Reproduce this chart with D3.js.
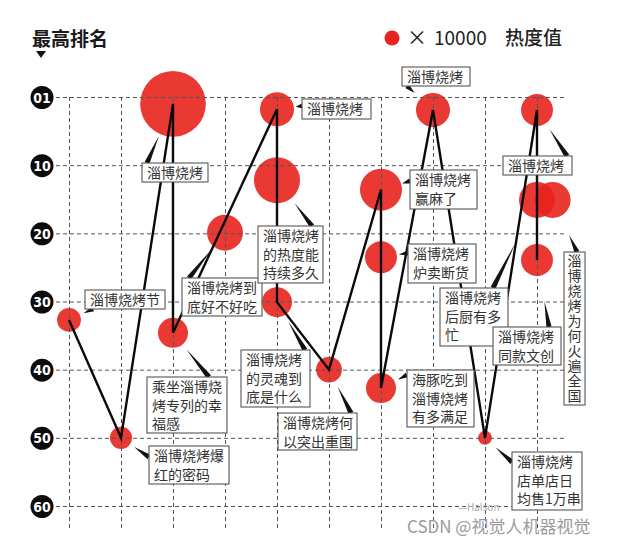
<!DOCTYPE html>
<html>
<head>
<meta charset="utf-8">
<script src="https://cdn.jsdelivr.net/npm/d3@7"></script>
<style>
  body { margin: 0; background: #fff; }
  text { font-family: "Noto Sans CJK SC", "Noto Sans", sans-serif; }
</style>
</head>
<body>
<svg id="chart" width="633" height="546"></svg>
<script>
// topic titles, one per bubble
const topics = [
  "淄博烧烤节", "淄博烧烤爆红的密码", "淄博烧烤", "乘坐淄博烧烤专列的幸福感",
  "淄博烧烤到底好不好吃", "淄博烧烤", "淄博烧烤的热度能持续多久", "淄博烧烤的灵魂到底是什么",
  "淄博烧烤何以突出重围", "淄博烧烤赢麻了", "淄博烧烤炉卖断货", "海豚吃到淄博烧烤有多满足",
  "淄博烧烤", "淄博烧烤店单店日均售1万串", "淄博烧烤", "淄博烧烤后厨有多忙",
  "淄博烧烤为何火遍全国", "淄博烧烤同款文创"
];
// column (time slot) of each bubble
const columns = [1, 2, 3, 3, 4, 5, 5, 5, 6, 7, 7, 7, 8, 9, 10, 10, 10.3, 10];
// best rank reached
const ranks = [32.7, 50, 1, 34.6, 19.9, 1.8, 12.2, 30.1, 40, 13.6, 23.5, 42.7, 1.9, 50, 1.9, 15.1, 15.1, 23.9];
// heat value, x 10000
const heats = [2.9, 2.5, 22, 4.6, 6.6, 5.9, 10.8, 4.6, 3.4, 9, 5.2, 4.6, 5.9, 1, 5.2, 6.6, 6.6, 5.2];
// order in which the trend line visits the bubbles
const trend = [0, 1, 2, 3, 5, 7, 8, 9, 11, 12, 13, 14, 17];

const rankTicks = [0, 10, 20, 30, 40, 50, 60];
const rankTickLabels = ["01", "10", "20", "30", "40", "50", "60"];
const columnTicks = [1, 2, 3, 4, 5, 6, 7, 8, 9, 10];

// callout boxes: box x,y,w,h / chars per line / anchor on box / gap to bubble
const callouts = [
  { i: 0,  box: [85, 290, 80, 19],  cpl: [5],       a: [93, 309],  gap: 4 },
  { i: 1,  box: [149, 446, 80, 38], cpl: [5, 4],    a: [149, 457], gap: 5 },
  { i: 2,  box: [142, 163, 66, 19], cpl: [4],       a: [147, 163], gap: 2 },
  { i: 3,  box: [147, 377, 80, 56], cpl: [5, 5, 2], a: [209, 377], gap: 6 },
  { i: 4,  box: [182, 278, 80, 38], cpl: [5, 5],    a: [189, 278], gap: 3 },
  { i: 5,  box: [302, 99, 69, 20],  cpl: [4],       a: [302, 106], gap: 2 },
  { i: 6,  box: [258, 226, 65, 57], cpl: [4, 4, 4], a: [312, 226], gap: 6 },
  { i: 7,  box: [241, 350, 69, 57], cpl: [4, 4, 4], a: [305, 350], gap: 7 },
  { i: 8,  box: [278, 413, 79, 37], cpl: [5, 5],    a: [351, 413], gap: 6 },
  { i: 9,  box: [410, 170, 67, 39], cpl: [4, 3],    a: [410, 181], gap: 1 },
  { i: 10, box: [408, 244, 68, 39], cpl: [4, 4],    a: [408, 253], gap: 2 },
  { i: 11, box: [407, 370, 67, 57], cpl: [4, 4, 4], a: [407, 375], gap: 4 },
  { i: 12, box: [402, 67, 68, 19],  cpl: [4],       a: [407, 86],  gap: 8 },
  { i: 13, box: [512, 452, 70, 58], cpl: [4, 4, 5], a: [512, 462], gap: 7 },
  { i: 14, box: [503, 156, 69, 19], cpl: [4],       a: [567, 156], gap: 7 },
  { i: 15, box: [440, 288, 68, 58], cpl: [4, 4, 1], a: [493, 288], gap: 30 },
  { i: 16, box: [564, 252, 21, 153], vertical: true, a: [577, 252], gap: 21 },
  { i: 17, box: [493, 327, 68, 38], cpl: [4, 4],    a: [549, 327], gap: 26 }
];

const red = "#e8221c";
const svg = d3.select("#chart");

const x = d3.scaleLinear().domain([1, 10]).range([69, 537]);
const y = d3.scaleLinear().domain([0, 60]).range([97, 506]);
const r = d3.scaleSqrt().domain([0, 1]).range([0, 7]);

const pts = topics.map((t, i) => ({ i, t, cx: x(columns[i]), cy: y(ranks[i]), r: r(heats[i]) }));

// header
svg.append("text").attr("x", 32).attr("y", 46)
  .attr("font-size", 19).attr("font-weight", 700).attr("fill", "#1a1a1a")
  .text("最高排名");
svg.append("path").attr("d", "M36,51 L46,51 L41,58 Z").attr("fill", "#111");

// legend
svg.append("circle").attr("cx", 392).attr("cy", 38).attr("r", 7.5).attr("fill", red);
svg.append("text").attr("x", 407).attr("y", 45).attr("font-size", 20).attr("fill", "#222").text("×");
svg.append("text").attr("x", 434).attr("y", 45).attr("font-size", 19).attr("fill", "#222").text("10000");
svg.append("text").attr("x", 505).attr("y", 45).attr("font-size", 19).attr("font-weight", 500).attr("fill", "#222").text("热度值");

// bubbles
svg.append("g").selectAll("circle")
  .data(pts.slice().sort((a, b) => b.r - a.r))
  .join("circle")
  .attr("cx", d => d.cx).attr("cy", d => d.cy).attr("r", d => d.r)
  .attr("fill", red).attr("fill-opacity", 0.9);

// grid
const gx = svg.append("g").attr("transform", "translate(0,97)")
  .call(d3.axisBottom(x).tickValues(columnTicks).tickSize(433).tickFormat(""));
gx.select(".domain").remove();
gx.selectAll("line").attr("stroke", "#555").attr("stroke-dasharray", "4,3");

const gy = svg.append("g").attr("transform", "translate(56,0)")
  .call(d3.axisLeft(y).tickValues(rankTicks).tickSize(-509)
    .tickFormat((d, k) => rankTickLabels[k]));
gy.select(".domain").remove();
gy.selectAll("line").attr("stroke", "#555").attr("stroke-dasharray", "4,3");
gy.selectAll(".tick").insert("ellipse", "text")
  .attr("cx", -14).attr("cy", 0).attr("rx", 11.5).attr("ry", 11.5).attr("fill", "#0c0c0c");
gy.selectAll("text")
  .attr("x", -14).attr("dy", "0.36em").attr("text-anchor", "middle")
  .attr("fill", "#fff").attr("font-size", 14).attr("font-weight", 700)
  .style("font-family", "'Liberation Sans Narrow', 'DejaVu Sans Condensed', sans-serif");

// trend line
svg.append("path")
  .datum(trend.map(k => pts[k]))
  .attr("d", d3.line().x(d => d.cx).y(d => d.cy))
  .attr("fill", "none").attr("stroke", "#0a0a0a").attr("stroke-width", 2.4)
  .attr("stroke-linejoin", "miter");

// callout wedges
svg.append("g").selectAll("path")
  .data(callouts)
  .join("path")
  .attr("fill", "#111")
  .attr("d", c => {
    const p = pts[c.i];
    const dx = c.a[0] - p.cx, dy = c.a[1] - p.cy, L = Math.hypot(dx, dy);
    const ux = dx / L, uy = dy / L;
    const tx = p.cx + ux * (p.r + c.gap), ty = p.cy + uy * (p.r + c.gap);
    const w = 2.6;
    return `M${tx},${ty} L${c.a[0] - uy * w},${c.a[1] + ux * w} L${c.a[0] + uy * w},${c.a[1] - ux * w} Z`;
  });

// callout boxes
const boxes = svg.append("g").selectAll("g")
  .data(callouts)
  .join("g");
boxes.append("rect")
  .attr("x", c => c.box[0]).attr("y", c => c.box[1])
  .attr("width", c => c.box[2]).attr("height", c => c.box[3])
  .attr("fill", "#fff").attr("stroke", "#555").attr("stroke-width", 1.1);
boxes.each(function (c) {
  const g = d3.select(this);
  const title = topics[c.i];
  if (c.vertical) {
    // one text, set top to bottom
    g.append("text").attr("x", c.box[0] + c.box[2] / 2).attr("y", c.box[1] + 2)
      .attr("font-size", 14).attr("fill", "#333")
      .style("writing-mode", "vertical-rl").style("text-orientation", "upright")
      .style("letter-spacing", "1px")
      .text(title);
    return;
  }
  let pos = 0;
  c.cpl.forEach((n, k) => {
    g.append("text").attr("x", c.box[0] + 5).attr("y", c.box[1] + 15 + k * 18.5)
      .attr("font-size", 14).attr("fill", "#333")
      .text(title.slice(pos, pos + n));
    pos += n;
  });
});

// watermarks
svg.append("text").attr("x", 458).attr("y", 511).attr("font-size", 10).attr("fill", "#aaa").text("—Halson");
svg.append("text").attr("x", 407).attr("y", 533).attr("font-size", 17).attr("fill", "#9a9a9a")
  .text("CSDN @视觉人机器视觉");
</script>
</body>
</html>
